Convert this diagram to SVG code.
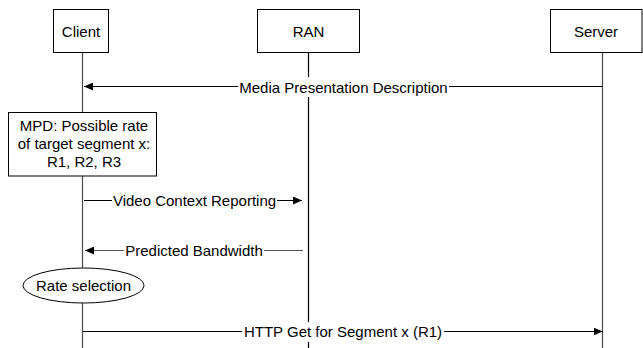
<svg xmlns="http://www.w3.org/2000/svg" width="643" height="348" viewBox="0 0 643 348">
<style>
text{font-family:"Liberation Sans",Arial,sans-serif;font-size:15px;fill:#000;text-anchor:middle}
.box{fill:#fff;stroke:#000;stroke-width:1}
.life{stroke:#4a4a4a;stroke-width:1.2;fill:none}
.msg{stroke:#000;stroke-width:1;fill:none}
.bg{fill:#fff;stroke:none}
</style>
<defs>
<marker id="ah" markerUnits="userSpaceOnUse" markerWidth="10" markerHeight="8" refX="9" refY="4" orient="auto">
<path d="M0,0 L9,4 L0,8 Z" fill="#000"/>
</marker>
</defs>
<rect width="643" height="348" fill="#fff"/>
<g id="lifelines">
<line class="life" x1="82.5" y1="52" x2="82.5" y2="348"/>
<line class="life" x1="308.5" y1="52" x2="308.5" y2="348" style="stroke:#000"/>
<line class="life" x1="602.5" y1="52" x2="602.5" y2="348"/>
</g>
<g id="connectors">
<line class="msg" x1="602.5" y1="86.5" x2="84" y2="86.5" marker-end="url(#ah)"/>
<rect class="bg" x="238" y="77" width="211" height="20"/>
<text x="343.5" y="92.5">Media Presentation Description</text>
<line class="msg" x1="84" y1="200.5" x2="302" y2="200.5" marker-end="url(#ah)"/>
<rect class="bg" x="112" y="191" width="165" height="19"/>
<text x="194.5" y="205.5">Video Context Reporting</text>
<line class="msg" x1="303" y1="250.5" x2="85" y2="250.5" marker-end="url(#ah)" style="stroke:#555"/>
<rect class="bg" x="124" y="241" width="140" height="19"/>
<text x="194" y="256">Predicted Bandwidth</text>
<line class="msg" x1="83" y1="331.5" x2="602.5" y2="331.5" marker-end="url(#ah)"/>
<rect class="bg" x="242" y="322" width="202" height="20"/>
<text x="343" y="337">HTTP Get for Segment x (R1)</text>
</g>
<g id="client">
<rect class="box" x="53.5" y="9.5" width="55" height="43"/>
<text x="81" y="36.5">Client</text>
</g>
<g id="ran">
<rect class="box" x="257.5" y="9.5" width="102" height="43"/>
<text x="308.5" y="36.5">RAN</text>
</g>
<g id="server">
<rect class="box" x="550.5" y="9.5" width="91.5" height="43"/>
<text x="596" y="36.5">Server</text>
</g>
<g id="mpd">
<rect class="box" x="8.5" y="112.5" width="148" height="63.5"/>
<text x="84" y="131">MPD: Possible rate</text>
<text x="84" y="149">of target segment x:</text>
<text x="84" y="166.5">R1, R2, R3</text>
</g>
<g id="rate">
<ellipse class="box" cx="83.5" cy="285.5" rx="60.5" ry="17.5"/>
<text x="83.5" y="290.5">Rate selection</text>
</g>
</svg>
